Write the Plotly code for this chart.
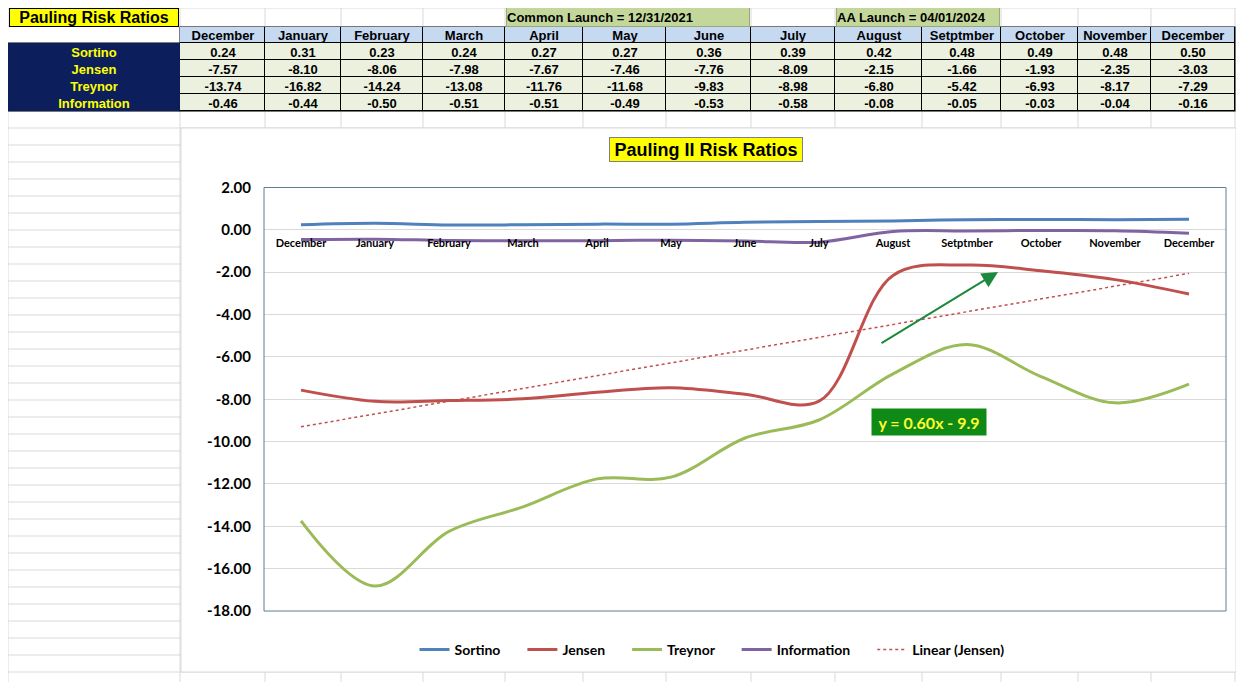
import numpy as np
import plotly.graph_objects as go

W, H = 1244, 682
OFF = 8  # page body margin seen in the browser shot

months = ["December", "January", "February", "March", "April", "May", "June",
          "July", "August", "Setptmber", "October", "November", "December"]
ratio_names = ["Sortino", "Jensen", "Treynor", "Information"]
sortino = [0.24, 0.31, 0.23, 0.24, 0.27, 0.27, 0.36, 0.39, 0.42, 0.48, 0.49, 0.48, 0.50]
jensen = [-7.57, -8.10, -8.06, -7.98, -7.67, -7.46, -7.76, -8.09, -2.15, -1.66, -1.93, -2.35, -3.03]
treynor = [-13.74, -16.82, -14.24, -13.08, -11.76, -11.68, -9.83, -8.98, -6.80, -5.42, -6.93, -8.17, -7.29]
information = [-0.46, -0.44, -0.50, -0.51, -0.51, -0.49, -0.53, -0.58, -0.08, -0.05, -0.03, -0.04, -0.16]
y_ticks = [2, 0, -2, -4, -6, -8, -10, -12, -14, -16, -18]

colors = {"Sortino": "#4f81bd", "Jensen": "#c0504d", "Treynor": "#9bbb59", "Information": "#8064a2"}

# spreadsheet grid (pixels)
col_edges = [OFF, 180, 265, 341, 423, 505, 583, 666, 751, 835, 922, 1001, 1078, 1151, 1235]
row_edges = [OFF, 27, 43, 60, 77, 94, 111] + list(range(128, 683, 17))
tbl_rows = [43, 60, 77, 94, 111]

# plot area in pixels
PL, PR, PT, PB = 264, 1226, 187.5, 611


def fx(p):
    return (p - OFF) / W


def fy(p):
    return 1 - (p - OFF) / H


x = list(range(len(months)))
series = {"Sortino": sortino, "Jensen": jensen, "Treynor": treynor, "Information": information}

fig = go.Figure()

for name, vals in series.items():
    fig.add_trace(go.Scatter(x=x, y=vals, name=name + "\u00a0" * 5, mode="lines",
                             line=dict(color=colors[name], width=3, shape="spline", smoothing=1.0)))

# linear trendline for Jensen (excel numbers x from 1)
xn = np.arange(1, len(jensen) + 1)
slope, icpt = np.polyfit(xn, jensen, 1)
fig.add_trace(go.Scatter(x=x, y=slope * xn + icpt, name="Linear (Jensen)", mode="lines",
                         line=dict(color="#c0504d", width=1.5, dash="dot")))

# the spreadsheet table, drawn as heatmap bricks on its own axes
tfont = dict(family="Liberation Sans", size=13, weight="bold")
value_text = [[f"{v:.2f}" for v in series[n]] for n in ratio_names]
fig.add_trace(go.Heatmap(
    x=col_edges[1:], y=[27, 43], z=[[0] * len(months)], text=[months], texttemplate="%{text}",
    colorscale=[[0, "#c5d9f1"], [1, "#c5d9f1"]], showscale=False, xgap=1, ygap=1,
    textfont=dict(tfont, color="black"), hoverinfo="skip", xaxis="x2", yaxis="y2"))
fig.add_trace(go.Heatmap(
    x=col_edges[:2], y=tbl_rows, z=[[0]] * len(ratio_names), text=[[n] for n in ratio_names],
    texttemplate="%{text}", colorscale=[[0, "#0c1f5c"], [1, "#0c1f5c"]], showscale=False,
    textfont=dict(tfont, color="#ffff00"), hoverinfo="skip", xaxis="x2", yaxis="y2"))
fig.add_trace(go.Heatmap(
    x=col_edges[1:], y=tbl_rows, z=[[0] * len(months)] * len(ratio_names), text=value_text,
    texttemplate="%{text}", colorscale=[[0, "#ebf1de"], [1, "#ebf1de"]], showscale=False,
    xgap=1, ygap=1, textfont=dict(tfont, color="black"), hoverinfo="skip", xaxis="x2", yaxis="y2"))

shapes = []
for r in row_edges:
    shapes.append(dict(type="line", xref="paper", yref="paper", x0=0, x1=1, y0=fy(r), y1=fy(r),
                       line=dict(color="#d9d9d9", width=1), layer="below"))
for c in col_edges:
    shapes.append(dict(type="line", xref="paper", yref="paper", x0=fx(c), x1=fx(c), y0=0, y1=1,
                       line=dict(color="#d9d9d9", width=1), layer="below"))
# white header cell of column A and the black cell borders behind the bricks
shapes.append(dict(type="rect", xref="paper", yref="paper", x0=fx(col_edges[0]), x1=fx(180),
                   y0=fy(43), y1=fy(27), fillcolor="white", line=dict(width=0), layer="below"))
shapes.append(dict(type="rect", xref="paper", yref="paper", x0=fx(179.5), x1=fx(1235.5),
                   y0=fy(111.5), y1=fy(26.5), fillcolor="black", line=dict(width=0), layer="below"))
shapes.append(dict(type="rect", xref="paper", yref="paper", x0=fx(col_edges[0]), x1=fx(180),
                   y0=fy(111.5), y1=fy(42.5), fillcolor="black", line=dict(width=0), layer="below"))
# chart area
shapes.append(dict(type="rect", xref="paper", yref="paper", x0=fx(181), x1=fx(1236), y0=fy(672), y1=fy(128),
                   fillcolor="white", line=dict(color="#d9d9d9", width=1), layer="below"))
# plot border
shapes.append(dict(type="rect", xref="x domain", yref="y domain", x0=0, x1=1, y0=0, y1=1,
                   line=dict(color="#5f7f8f", width=1)))

box = dict(xref="paper", yref="paper", xanchor="center", yanchor="middle", showarrow=False)
annotations = [
    dict(box, text="Pauling Risk Ratios", x=fx(94), y=fy(17.5),
         width=168, height=17, bgcolor="#ffff00", bordercolor="black", borderwidth=1,
         borderpad=0, font=dict(family="Liberation Sans", size=16, color="black", weight="bold")),
    dict(box, text="Common Launch = 12/31/2021", x=fx(628), y=fy(17),
         width=242, height=18, align="left", bgcolor="#c4d79b", bordercolor="#9aa87a",
         borderwidth=1, borderpad=0, font=dict(family="Liberation Sans", size=13, color="black", weight="bold")),
    dict(box, text="AA Launch = 04/01/2024", x=fx(918), y=fy(17),
         width=162, height=18, align="left", bgcolor="#c4d79b", bordercolor="#9aa87a",
         borderwidth=1, borderpad=0, font=dict(family="Liberation Sans", size=13, color="black", weight="bold")),
    dict(box, text="Pauling II Risk Ratios", x=fx(706), y=fy(149.5),
         width=190, height=21, bgcolor="#ffff00", bordercolor="#808080", borderwidth=1,
         borderpad=1, font=dict(family="Liberation Sans", size=18, color="black", weight="bold")),
    dict(box, text=f"y = {slope:.2f}x - {abs(icpt):.1f}", x=fx(929.5), y=fy(422),
         width=110, height=22, bgcolor="#0f8a16", borderpad=2,
         font=dict(family="Lato", size=16, color="#ffff33", weight="bold")),
    dict(text="", xref="paper", yref="paper", x=fx(998), y=fy(272), ax=-118, ay=72,
         showarrow=True, arrowhead=2, arrowsize=1.6, arrowwidth=2, arrowcolor="#1c8a3c"),
]

y_dom = [fy(PB), fy(PT)]
zero_pos = y_dom[0] + (0 - (-18)) / 20 * (y_dom[1] - y_dom[0])

fig.update_layout(
    width=W, height=H,
    margin=dict(l=0, r=0, t=0, b=0, autoexpand=False),
    paper_bgcolor="white",
    plot_bgcolor="rgba(0,0,0,0)",
    showlegend=True,
    legend=dict(orientation="h", x=fx(712), xanchor="center", y=fy(650), yanchor="middle",
                font=dict(family="Lato", size=14, color="black", weight="bold"),
                bgcolor="rgba(0,0,0,0)", itemwidth=30),
    xaxis=dict(domain=[fx(PL), fx(PR)], range=[-0.5, len(months) - 0.5], anchor="free", position=zero_pos,
               tickmode="array", tickvals=x, ticktext=months, showgrid=False, zeroline=False,
               showline=False, ticks="", automargin=False, ticklabelstandoff=5,
               tickfont=dict(family="Lato", size=11, color="black", weight="bold")),
    yaxis=dict(domain=y_dom, range=[-18, 2], tickmode="array", tickvals=y_ticks,
               ticktext=[f"{v:.2f}" for v in y_ticks], showgrid=True, gridcolor="#d9d9d9",
               zeroline=False, showline=False, ticks="", ticklabelstandoff=12, automargin=False,
               tickfont=dict(family="Lato", size=15, color="black", weight="bold")),
    xaxis2=dict(domain=[fx(col_edges[0]), fx(col_edges[-1])], range=[col_edges[0], col_edges[-1]],
                anchor="y2", visible=False, fixedrange=True),
    yaxis2=dict(domain=[fy(111), fy(27)], range=[111, 27], anchor="x2", visible=False, fixedrange=True),
    shapes=shapes,
    annotations=annotations,
)

fig.write_html("out.html")
